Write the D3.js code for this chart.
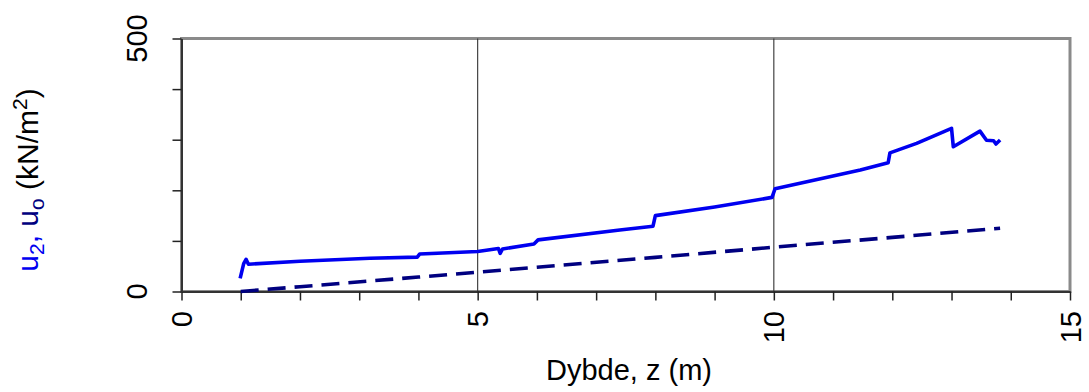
<!DOCTYPE html>
<html>
<head>
<meta charset="utf-8">
<script src="https://cdn.jsdelivr.net/npm/d3@7"></script>
<style>
  html, body { margin: 0; padding: 0; background: #fff; }
  svg text { font-family: "Liberation Sans", Arial, sans-serif; }
</style>
</head>
<body>
<svg id="chart" width="1089" height="392"></svg>
<script>
// ---- data ----
const u2Depth = [0.99, 1.05, 1.09, 1.13, 2.0, 3.18, 3.98, 4.02, 5.0, 5.35, 5.38, 5.42, 5.95, 6.02, 7.4, 7.96, 8.0, 9.0, 9.97, 10.02, 11.46, 11.93, 11.96, 12.41, 13.0, 13.03, 13.48, 13.59, 13.71, 13.75, 13.82];
const u2Value = [26, 55, 63.6, 54, 59.7, 65.6, 68, 74, 79, 85, 75.5, 84, 94, 102, 121.5, 129, 150, 167, 186, 203, 240, 254.5, 274, 292.8, 322.5, 286, 317, 299, 298, 291.5, 299.4];
const u0Depth = [1.0, 2.0, 4.0, 6.0, 8.0, 10.0, 12.0, 13.82];
const u0Value = [0, 9.5, 28.5, 48, 67.5, 87.5, 107, 125];
const xTickLabels = [0, 5, 10, 15];
const yTickLabels = [0, 500];
const xMinorTicks = d3.range(0, 16, 1);
const yMinorTicks = [0, 100, 200, 300, 400, 500];
const xGrid = [5, 10];

const svg = d3.select("#chart");
const x = d3.scaleLinear().domain([0, 15]).range([181.5, 1070]);
const y = d3.scaleLinear().domain([0, 500]).range([291.5, 38.5]);

// plot frame (gray)
svg.append("rect")
  .attr("x", x(0)).attr("y", y(500))
  .attr("width", x(15) - x(0)).attr("height", y(0) - y(500))
  .attr("fill", "#fff").attr("stroke", "#8a8a8a").attr("stroke-width", 3);

// vertical gridlines
svg.selectAll("line.grid").data(xGrid).enter().append("line")
  .attr("class", "grid")
  .attr("x1", d => x(d)).attr("x2", d => x(d))
  .attr("y1", y(500)).attr("y2", y(0))
  .attr("stroke", "#333").attr("stroke-width", 1.1);

// axes
const xAxis = d3.axisBottom(x).tickValues(xMinorTicks).tickSize(9).tickSizeOuter(0).tickFormat("");
const yAxis = d3.axisLeft(y).tickValues(yMinorTicks).tickSize(9).tickSizeOuter(0).tickFormat("");
const gx = svg.append("g").attr("transform", `translate(0,${y(0)})`).call(xAxis);
const gy = svg.append("g").attr("transform", `translate(${x(0)},0)`).call(yAxis);
[gx, gy].forEach(g => {
  g.select(".domain").attr("stroke", "#333").attr("stroke-width", 2);
  g.selectAll(".tick line").attr("stroke", "#222").attr("stroke-width", 1.5);
});

// tick labels
svg.selectAll("text.xl").data(xTickLabels).enter().append("text")
  .attr("class", "xl")
  .attr("transform", d => `translate(${x(d) + 10.5},311) rotate(-90)`)
  .attr("text-anchor", "end")
  .attr("font-size", 29)
  .attr("fill", "#000")
  .text(d => d);
svg.selectAll("text.yl").data(yTickLabels).enter().append("text")
  .attr("class", "yl")
  .attr("transform", d => `translate(146.5,${y(d)}) rotate(-90)`)
  .attr("text-anchor", "middle")
  .attr("font-size", 29)
  .attr("fill", "#000")
  .text(d => d);

// lines
const line = d3.line().x(d => x(d[0])).y(d => y(d[1]));
const u0Data = u0Depth.map((d, i) => [d, u0Value[i]]);
const u2Data = u2Depth.map((d, i) => [d, u2Value[i]]);

svg.append("path").datum(u0Data)
  .attr("d", line).attr("fill", "none")
  .attr("stroke", "#000080").attr("stroke-width", 3.6)
  .attr("stroke-dasharray", "18,9");
svg.append("path").datum(u2Data)
  .attr("d", line).attr("fill", "none")
  .attr("stroke", "#0000f0").attr("stroke-width", 3.6)
  .attr("stroke-linejoin", "round");

// x axis title
svg.append("text")
  .attr("x", 629).attr("y", 379.5)
  .attr("text-anchor", "middle")
  .attr("font-size", 29)
  .attr("fill", "#000")
  .text("Dybde, z (m)");

// y axis title (rich text)
const yt = svg.append("text")
  .attr("transform", "translate(38,180) rotate(-90)")
  .attr("text-anchor", "middle")
  .attr("font-size", 30);
yt.append("tspan").attr("fill", "#0000f0").text("u");
yt.append("tspan").attr("fill", "#0000f0").attr("font-size", 21).attr("dy", 6).text("2");
yt.append("tspan").attr("fill", "#0000f0").attr("dy", -6).text(", ");
yt.append("tspan").attr("fill", "#000080").text("u");
yt.append("tspan").attr("fill", "#000080").attr("font-size", 21).attr("dy", 6).text("o");
yt.append("tspan").attr("fill", "#000").attr("dy", -6).text(" (kN/m");
yt.append("tspan").attr("fill", "#000").attr("font-size", 21).attr("dy", -11).text("2");
yt.append("tspan").attr("fill", "#000").attr("dy", 11).text(")");
</script>
</body>
</html>
